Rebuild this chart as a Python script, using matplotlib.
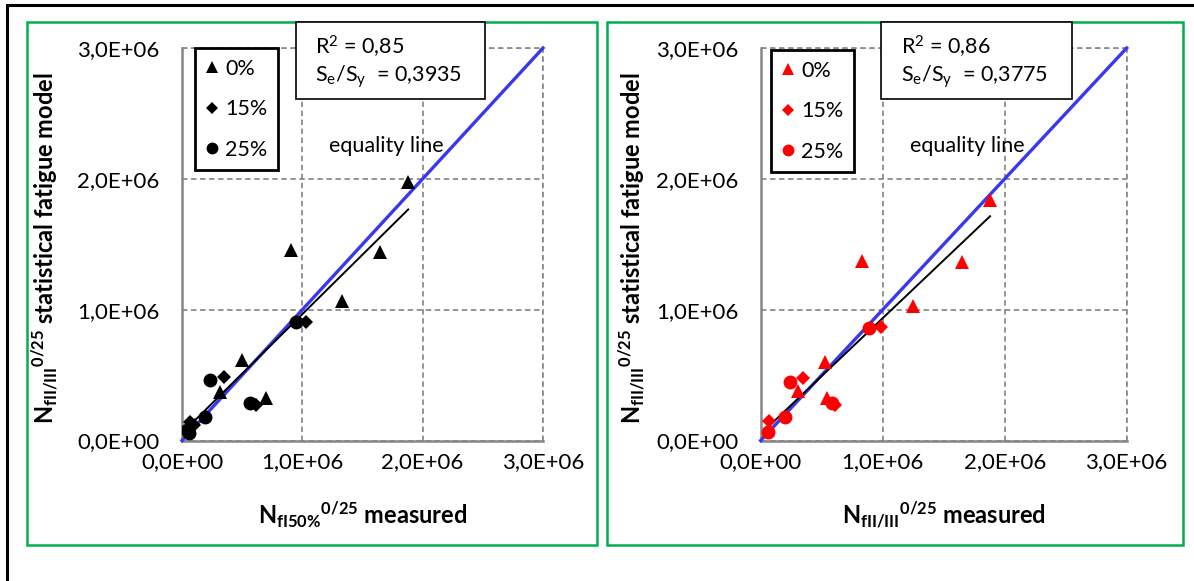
import numpy as np
import matplotlib
matplotlib.use('Agg')
import matplotlib.pyplot as plt
from matplotlib.patches import Rectangle

plt.rcParams['font.family'] = ['Lato', 'DejaVu Sans']
plt.rcParams['mathtext.fontset'] = 'custom'
plt.rcParams['mathtext.rm'] = 'Lato'
plt.rcParams['mathtext.it'] = 'Lato:italic'
plt.rcParams['mathtext.bf'] = 'Lato:bold'
plt.rcParams['mathtext.default'] = 'regular'

# ---- data ----
# left panel: measured N_fI50% vs model N_fII/III
L_x0 = [1.874e6, 0.902e6, 1.644e6, 1.333e6, 0.500e6, 0.313e6, 0.694e6]
L_y0 = [1.972e6, 1.456e6, 1.443e6, 1.069e6, 0.616e6, 0.374e6, 0.323e6]
L_x15 = [1.028e6, 0.347e6, 0.611e6, 0.069e6, 0.100e6]
L_y15 = [0.904e6, 0.489e6, 0.273e6, 0.145e6, 0.120e6]
L_x25 = [0.944e6, 0.236e6, 0.569e6, 0.194e6, 0.055e6, 0.040e6]
L_y25 = [0.904e6, 0.463e6, 0.285e6, 0.183e6, 0.061e6, 0.080e6]
L_trend_x = [0.028e6, 1.880e6]
L_trend_y = [0.082e6, 1.766e6]

# right panel: measured N_fII/III vs model N_fII/III
R_x0 = [1.880e6, 0.828e6, 1.648e6, 1.251e6, 0.527e6, 0.308e6, 0.546e6]
R_y0 = [1.840e6, 1.373e6, 1.365e6, 1.029e6, 0.602e6, 0.380e6, 0.322e6]
R_x15 = [0.984e6, 0.344e6, 0.609e6, 0.071e6]
R_y15 = [0.869e6, 0.479e6, 0.271e6, 0.151e6]
R_x25 = [0.890e6, 0.240e6, 0.582e6, 0.199e6, 0.062e6]
R_y25 = [0.861e6, 0.449e6, 0.289e6, 0.182e6, 0.067e6]
R_trend_x = [0.062e6, 1.880e6]
R_trend_y = [0.105e6, 1.714e6]

equality = [0, 3.0e6]
ticks = [0, 1.0e6, 2.0e6, 3.0e6]
tick_labels = ['0,0E+00', '1,0E+06', '2,0E+06', '3,0E+06']
legend_labels = ['0%', '15%', '25%']
stats_left = ('0,85', '0,3935')
stats_right = ('0,86', '0,3775')

W, H = 1194, 581
fig = plt.figure(figsize=(W / 100, H / 100), dpi=100, facecolor='white')


def fx(px):
    return px / W


def fy(py):
    return 1 - py / H


GRID = '#8c8c8c'
BLUE = '#3838ee'
GREEN = '#00b050'
YLABEL = r'$\mathbf{N}_{\mathbf{fII/III}}$$^{\mathbf{0/25}}$ statistical fatigue model'


def panel(rect, xs, ys, trend, color, xlabel, stats, leg_xy, box_rect, text_x, ylabel_x):
    ax = fig.add_axes(rect)
    ax.set_xlim(0, 3.0e6)
    ax.set_ylim(0, 3.0e6)
    ax.set_xticks(ticks)
    ax.set_yticks(ticks)
    ax.set_xticklabels(tick_labels)
    ax.set_yticklabels(tick_labels)
    ax.tick_params(length=0, labelsize=16, colors='black')
    ax.tick_params(axis='y', pad=16)
    ax.tick_params(axis='x', pad=8)
    for s in ['top', 'right']:
        ax.spines[s].set_visible(False)
    for s in ['left', 'bottom']:
        ax.spines[s].set_color('#868686')
        ax.spines[s].set_linewidth(1.8)
    ax.grid(True, color=GRID, linestyle=(0, (3, 2)), linewidth=1.3)
    ax.axhline(3.0e6, color=GRID, linestyle=(0, (3, 2)), linewidth=1.3, clip_on=False)
    ax.axvline(3.0e6, color=GRID, linestyle=(0, (3, 2)), linewidth=1.3, clip_on=False)

    ax.plot(equality, equality, color=BLUE, linewidth=2.4, zorder=3, clip_on=False)
    ax.plot(trend[0], trend[1], color='black', linewidth=1.4, zorder=4)

    markers = ['^', 'D', 'o']
    sizes = [10, 7.5, 10]
    leg_sizes = [9, 6.5, 8.5]
    handles = []
    for x, y, m, ms, lab in zip(xs, ys, markers, sizes, legend_labels):
        h, = ax.plot(x, y, linestyle='none', marker=m, markersize=ms,
                     color=color, markeredgewidth=0, zorder=5, label=lab)
        handles.append(h)

    leg = ax.legend(handles=handles, loc='upper left',
                    bbox_to_anchor=(fx(leg_xy[0]), fy(leg_xy[1])),
                    bbox_transform=fig.transFigure, borderaxespad=0,
                    fontsize=15.5, handlelength=0.6, handletextpad=0.3,
                    labelspacing=0.95, borderpad=0.5, fancybox=False,
                    frameon=True, framealpha=1, edgecolor='black')
    leg.get_frame().set_linewidth(2.0)
    for h, s in zip(leg.legend_handles, leg_sizes):
        h.set_markersize(s)

    ax.text(1.225e6, 2.25e6, 'equality line', fontsize=15.5, ha='left', va='center', zorder=6)

    ax.set_xlabel(xlabel, fontsize=17, fontweight='bold', labelpad=20)
    fig.text(fx(ylabel_x), rect[1] + rect[3] * 0.49, YLABEL, rotation=90,
             fontsize=17, fontweight='bold', ha='center', va='center')

    # statistics box
    x0, y0, x1, y1 = box_rect
    fig.add_artist(Rectangle((fx(x0), fy(y1)), fx(x1 - x0), (y1 - y0) / H,
                             transform=fig.transFigure, facecolor='white',
                             edgecolor='black', linewidth=1.2, zorder=3))
    fig.text(fx(text_x), fy(47), r'R$^2$ = ' + stats[0], fontsize=15.5,
             va='center', ha='left', zorder=4)
    fig.text(fx(text_x), fy(77), r'S$_e$/S$_y$  = ' + stats[1], fontsize=15.5,
             va='center', ha='left', zorder=4)
    return ax


panel([fx(182), fy(440.5), fx(543) - fx(182), (440.5 - 48) / H],
      [L_x0, L_x15, L_x25], [L_y0, L_y15, L_y25], (L_trend_x, L_trend_y), 'black',
      r'$\mathbf{N}_{\mathbf{fI50\%}}$$^{\mathbf{0/25}}$ measured', stats_left,
      (195, 48), (296, 22, 485, 99), 315, 45)

panel([fx(760.7), fy(440.5), fx(1126.7) - fx(760.7), (440.5 - 48) / H],
      [R_x0, R_x15, R_x25], [R_y0, R_y15, R_y25], (R_trend_x, R_trend_y), '#ff0000',
      r'$\mathbf{N}_{\mathbf{fII/III}}$$^{\mathbf{0/25}}$ measured', stats_right,
      (771, 50), (881, 22, 1072, 99), 901, 632)

# green panel frames
for (x0, x1) in [(27, 597), (607, 1183)]:
    fig.add_artist(Rectangle((fx(x0), fy(545)), fx(x1 - x0), (545 - 22) / H,
                             transform=fig.transFigure, fill=False,
                             edgecolor=GREEN, linewidth=1.8, zorder=2))

# outer black frame (runs off the right and bottom edges)
fig.add_artist(Rectangle((fx(7), -0.05), 1.1, fy(5) + 0.05,
                         transform=fig.transFigure, fill=False,
                         edgecolor='black', linewidth=2.2, zorder=2))

fig.savefig('out.png', dpi=100, facecolor='white')
